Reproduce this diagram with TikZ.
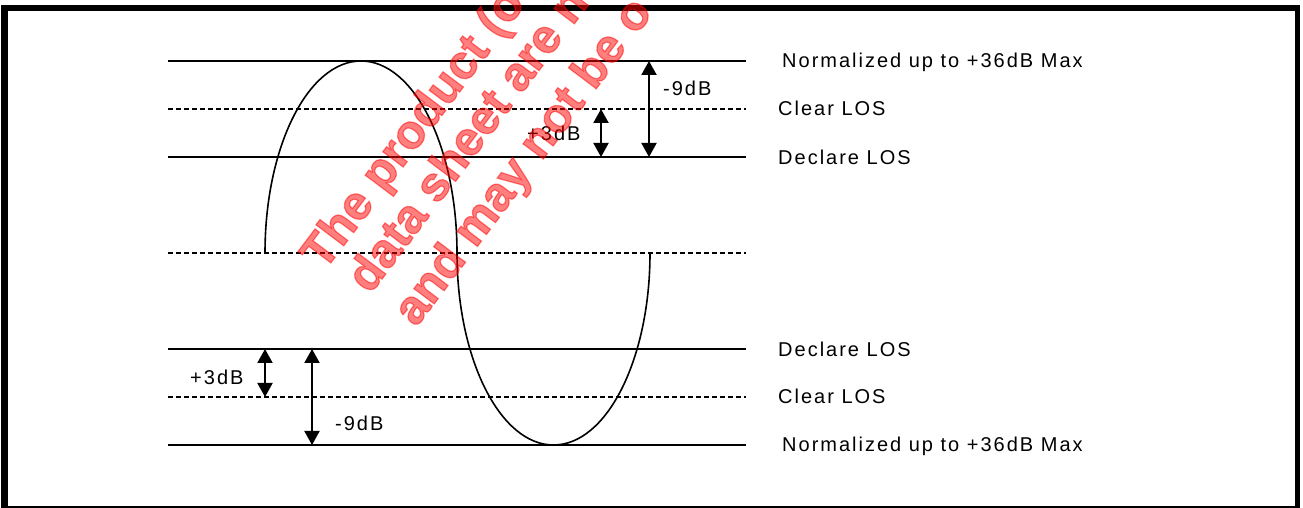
\documentclass[tikz,border=0pt]{standalone}
\usepackage{fontspec}
\setmainfont{Liberation Sans}
\newfontfamily\lblfont[LetterSpace=10]{Liberation Sans}
\newfontfamily\stampfont[FakeBold=2.5]{Liberation Sans Bold}
\usetikzlibrary{arrows.meta}

\begin{document}
\begin{tikzpicture}[x=1pt,y=1pt,
  sigline/.style={line width=1.6pt},
  thrline/.style={line width=1.5pt, dash pattern=on 5pt off 3pt},
  dbspan/.style={line width=2pt, {Triangle[length=14pt,width=15pt]}-{Triangle[length=14pt,width=15pt]}},
  lbl/.style={font=\lblfont\fontsize{20}{24}\selectfont, inner sep=0pt},
  stamp/.style={font=\stampfont\fontsize{48}{50}\selectfont, text=red, text opacity=0.5,
    inner sep=0pt, rotate=53, anchor=base west}]

\useasboundingbox (0,0) rectangle (1303,508);

% Rahmen
\draw[line width=7pt] (4.5,0) -- (4.5,503);
\draw[line width=6pt] (1,500) -- (1300,500);
\draw[line width=5pt] (1297.5,0) -- (1297.5,503);
\draw[line width=1.5pt] (1,1) -- (1300,1);

% Pegel (Mitte und Abstaende)
\def \mid {255}
\def \lX {168}
\def \rX {746}
\def \yMax {447}
\def \yClrT {399}
\def \yDecT {351}
\def \yDecB {159}
\def \yClrB {111}
\def \yMin {63}

% Endpunkte der Linien
\coordinate (maxL) at (\lX,\yMax);   \coordinate (maxR) at (\rX,\yMax);
\coordinate (clrTL) at (\lX,\yClrT); \coordinate (clrTR) at (\rX,\yClrT);
\coordinate (decTL) at (\lX,\yDecT); \coordinate (decTR) at (\rX,\yDecT);
\coordinate (midL) at (\lX,\mid);    \coordinate (midR) at (\rX,\mid);
\coordinate (decBL) at (\lX,\yDecB); \coordinate (decBR) at (\rX,\yDecB);
\coordinate (clrBL) at (\lX,\yClrB); \coordinate (clrBR) at (\rX,\yClrB);
\coordinate (minL) at (\lX,\yMin);   \coordinate (minR) at (\rX,\yMin);

% Linien zeichnen
\path[sigline] (maxL) edge (maxR);
\path[thrline] (clrTL) edge (clrTR);
\path[sigline] (decTL) edge (decTR);
\path[thrline] (midL) edge (midR);
\path[sigline] (decBL) edge (decBR);
\path[thrline] (clrBL) edge (clrBR);
\path[sigline] (minL) edge (minR);

% Signal
\coordinate (sigStart) at (265,\mid);
\draw[sigline] (sigStart) arc[start angle=180, end angle=0, x radius=96, y radius=192]
  arc[start angle=180, end angle=360, x radius=96.5, y radius=192];

% Beschriftung rechts
\node[lbl, anchor=base west] (maxTopText) at (782,440) {Normalized up to +36dB Max};
\node[lbl, anchor=base west] (clrTopText) at (778,392) {Clear LOS};
\node[lbl, anchor=base west] (decTopText) at (778,343) {Declare LOS};
\node[lbl, anchor=base west] (decBotText) at (778,151) {Declare LOS};
\node[lbl, anchor=base west] (clrBotText) at (778,104) {Clear LOS};
\node[lbl, anchor=base west] (minBotText) at (782,56) {Normalized up to +36dB Max};

% Pfeile oben
\coordinate (hystTA) at (601,\yClrT);
\coordinate (hystTB) at (601,\yDecT);
\coordinate (rangeTA) at (649,\yMax);
\coordinate (rangeTB) at (649,\yDecT);
\path[dbspan] (hystTA) edge (hystTB);
\path[dbspan] (rangeTA) edge (rangeTB);
\node[lbl, anchor=west] (hystTText) at (527,375) {+3dB};
\node[lbl, anchor=west] (rangeTText) at (663,420) {-9dB};

% Pfeile unten
\coordinate (hystBA) at (265,\yDecB);
\coordinate (hystBB) at (265,\yClrB);
\coordinate (rangeBA) at (312,\yDecB);
\coordinate (rangeBB) at (312,\yMin);
\path[dbspan] (hystBA) edge (hystBB);
\path[dbspan] (rangeBA) edge (rangeBB);
\node[lbl, anchor=west] (hystBText) at (190,131) {+3dB};
\node[lbl, anchor=west] (rangeBText) at (335,85) {-9dB};

% Stempel
\begin{scope}
\clip (0,0) rectangle (1303,508);
\node[stamp] (stampA) at (324,236) {The product (o};
\node[stamp] (stampB) at (370,213) {data sheet are n};
\node[stamp] (stampC) at (416,180) {and may not be o};
\end{scope}

\end{tikzpicture}
\end{document}
